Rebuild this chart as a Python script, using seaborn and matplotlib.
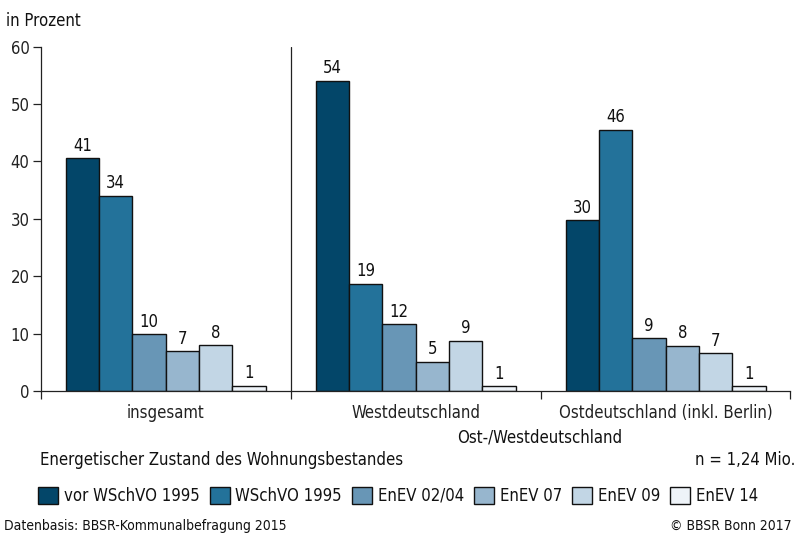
import pandas as pd
import matplotlib
matplotlib.use("Agg")
import matplotlib.pyplot as plt
import seaborn as sns

# -------------------------------------------------------------------------
# Data
# -------------------------------------------------------------------------
regionen = ["insgesamt", "Westdeutschland", "Ostdeutschland (inkl. Berlin)"]
kategorien = ["vor WSchVO 1995", "WSchVO 1995", "EnEV 02/04", "EnEV 07", "EnEV 09", "EnEV 14"]

# bar heights as drawn (percent)
werte_insgesamt = [40.6, 34.0, 9.9, 6.9, 8.0, 0.9]
werte_west = [54.1, 18.7, 11.6, 5.1, 8.8, 0.8]
werte_ost = [29.8, 45.5, 9.2, 7.9, 6.6, 0.8]

# printed labels
labels_insgesamt = [41, 34, 10, 7, 8, 1]
labels_west = [54, 19, 12, 5, 9, 1]
labels_ost = [30, 46, 9, 8, 7, 1]

farben = ["#034669", "#23729a", "#6896b6", "#97b6ce", "#c2d6e5", "#eef3f8"]

y_ticks = [0, 10, 20, 30, 40, 50, 60]

rows = []
for region, werte in zip(regionen, [werte_insgesamt, werte_west, werte_ost]):
    for kat, w in zip(kategorien, werte):
        rows.append({"region": region, "kategorie": kat, "wert": w})
df = pd.DataFrame(rows)

label_map = {}
for region, labs in zip(regionen, [labels_insgesamt, labels_west, labels_ost]):
    for kat, l in zip(kategorien, labs):
        label_map[(region, kat)] = l

# -------------------------------------------------------------------------
# Style
# -------------------------------------------------------------------------
sns.set_theme(style="white")
plt.rcParams["font.family"] = ["DejaVu Sans"]
plt.rcParams["font.stretch"] = "condensed"
plt.rcParams["axes.edgecolor"] = "#222222"
plt.rcParams["xtick.color"] = "#222222"
plt.rcParams["ytick.color"] = "#222222"
plt.rcParams["text.color"] = "#111111"
FS = 12

fig = plt.figure(figsize=(7.96, 5.38), dpi=100)
ax = fig.add_axes([40.7 / 796, 1 - 391 / 538, (790.5 - 40.7) / 796, (391 - 46.7) / 538])

sns.barplot(data=df, x="region", y="wert", hue="kategorie", order=regionen,
            hue_order=kategorien, palette=farben, saturation=1, width=0.8,
            edgecolor="#111111", linewidth=1.0, ax=ax, legend=True)

# value labels
for kat, cont in zip(kategorien, ax.containers):
    labs = [str(label_map[(r, kat)]) for r in regionen]
    ax.bar_label(cont, labels=labs, padding=2.5, fontsize=FS)

# -------------------------------------------------------------------------
# Axes
# -------------------------------------------------------------------------
ax.set_xlim(-0.5, 2.5)
ax.set_ylim(0, 60)
ax.set_yticks(y_ticks)
ax.tick_params(axis="y", left=True, direction="out", length=6, width=0.9, pad=2, labelsize=FS)
ax.tick_params(axis="x", which="major", bottom=True, length=0, pad=9, labelsize=FS)
ax.set_xticks([-0.5, 0.5, 1.5, 2.5], minor=True)
ax.tick_params(axis="x", which="minor", bottom=True, direction="out", length=6, width=0.9)
ax.set_xlabel("")
ax.set_ylabel("")
for side in ["top", "right"]:
    ax.spines[side].set_visible(False)
for side in ["left", "bottom"]:
    ax.spines[side].set_linewidth(0.9)
ax.axvline(0.5, 0, 1, color="#222222", lw=0.9)

# -------------------------------------------------------------------------
# Legend
# -------------------------------------------------------------------------
handles, labels = ax.get_legend_handles_labels()
ax.get_legend().remove()
fig.legend(handles, labels, loc="center left", bbox_to_anchor=(38 / 796, 1 - 496 / 538),
           ncol=6, frameon=False, fontsize=FS, handlelength=1.2, handleheight=1.15,
           handletextpad=0.35, columnspacing=0.6, borderpad=0, borderaxespad=0)

# -------------------------------------------------------------------------
# Texts
# -------------------------------------------------------------------------
fig.text(6 / 796, 1 - 21 / 538, "in Prozent", ha="left", va="center", fontsize=FS)
fig.text(540 / 796, 1 - 437 / 538, "Ost-/Westdeutschland", ha="center", va="center", fontsize=FS)
fig.text(40 / 796, 1 - 460 / 538, "Energetischer Zustand des Wohnungsbestandes",
         ha="left", va="center", fontsize=FS)
fig.text(795 / 796, 1 - 460 / 538, "n = 1,24 Mio.", ha="right", va="center", fontsize=FS)
fig.text(4 / 796, 1 - 526 / 538, "Datenbasis: BBSR-Kommunalbefragung 2015",
         ha="left", va="center", fontsize=10)
fig.text(792 / 796, 1 - 526 / 538, "© BBSR Bonn 2017", ha="right", va="center", fontsize=10)

fig.savefig("out.png", dpi=100)
